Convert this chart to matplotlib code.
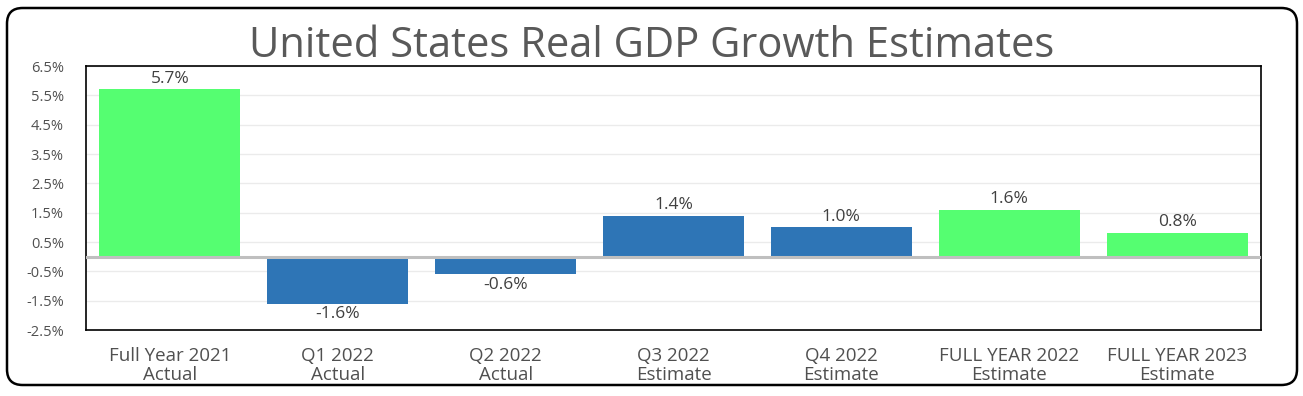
import matplotlib
matplotlib.use("Agg")
import matplotlib.pyplot as plt
from matplotlib.patches import FancyBboxPatch

categories = ["Full Year 2021\nActual", "Q1 2022\nActual", "Q2 2022\nActual",
              "Q3 2022\nEstimate", "Q4 2022\nEstimate", "FULL YEAR 2022\nEstimate",
              "FULL YEAR 2023\nEstimate"]
values = [5.7, -1.6, -0.6, 1.4, 1.0, 1.6, 0.8]
kinds = ["year", "quarter", "quarter", "quarter", "quarter", "year", "year"]
yticks = [-2.5, -1.5, -0.5, 0.5, 1.5, 2.5, 3.5, 4.5, 5.5, 6.5]

plt.rcParams['font.family'] = ['Open Sans', 'DejaVu Sans']
W, H = 1303, 396
fig = plt.figure(figsize=(W/100, H/100), dpi=100)
fig.patch.set_facecolor('white')

# outer rounded border
border = FancyBboxPatch((7/W, 11/H), (1297-7)/W, (388-11)/H,
                        boxstyle="round,pad=0,rounding_size=0.012",
                        transform=fig.transFigure, fill=False, ec='black', lw=1.8,
                        mutation_aspect=W/H)
fig.patches.append(border)

ax = fig.add_axes([86/W, 1-330/H, (1261-86)/W, (330-66)/H])
colors = {"year": "#55FE71", "quarter": "#2E75B6"}
x = list(range(len(values)))
ax.bar(x, values, width=0.84, color=[colors[k] for k in kinds], zorder=3)
ax.set_xlim(-0.5, len(values)-0.5)
ax.set_ylim(-2.5, 6.5)
ax.set_yticks(yticks)
ax.set_yticklabels([f"{t:.1f}%" for t in yticks])
ax.yaxis.grid(True, color='#ebebeb', lw=1, zorder=0)
ax.axhline(0, color='#bfbfbf', lw=2.2, zorder=4)
ax.tick_params(axis='y', length=0, pad=16, labelsize=10.5, labelcolor='#505050')
ax.set_xticks(x)
ax.set_xticklabels(categories, fontsize=13.5, color='#505050', linespacing=1.1)
ax.tick_params(axis='x', length=0, pad=12)
for s in ax.spines.values():
    s.set_color('black'); s.set_linewidth(1.2)

for xi, v in zip(x, values):
    if v >= 0:
        ax.annotate(f"{v:.1f}%", (xi, v), xytext=(0, 2), textcoords='offset points',
                    ha='center', va='bottom', fontsize=12.5, color='#404040', zorder=5)
    else:
        ax.annotate(f"{v:.1f}%", (xi, v), xytext=(0, -2), textcoords='offset points',
                    ha='center', va='top', fontsize=12.5, color='#404040', zorder=5)

fig.text(0.5, 1-46/H, "United States Real GDP Growth Estimates", ha='center', va='center',
         fontsize=30, color='#595959')

fig.savefig("out.png", dpi=100, facecolor='white')
